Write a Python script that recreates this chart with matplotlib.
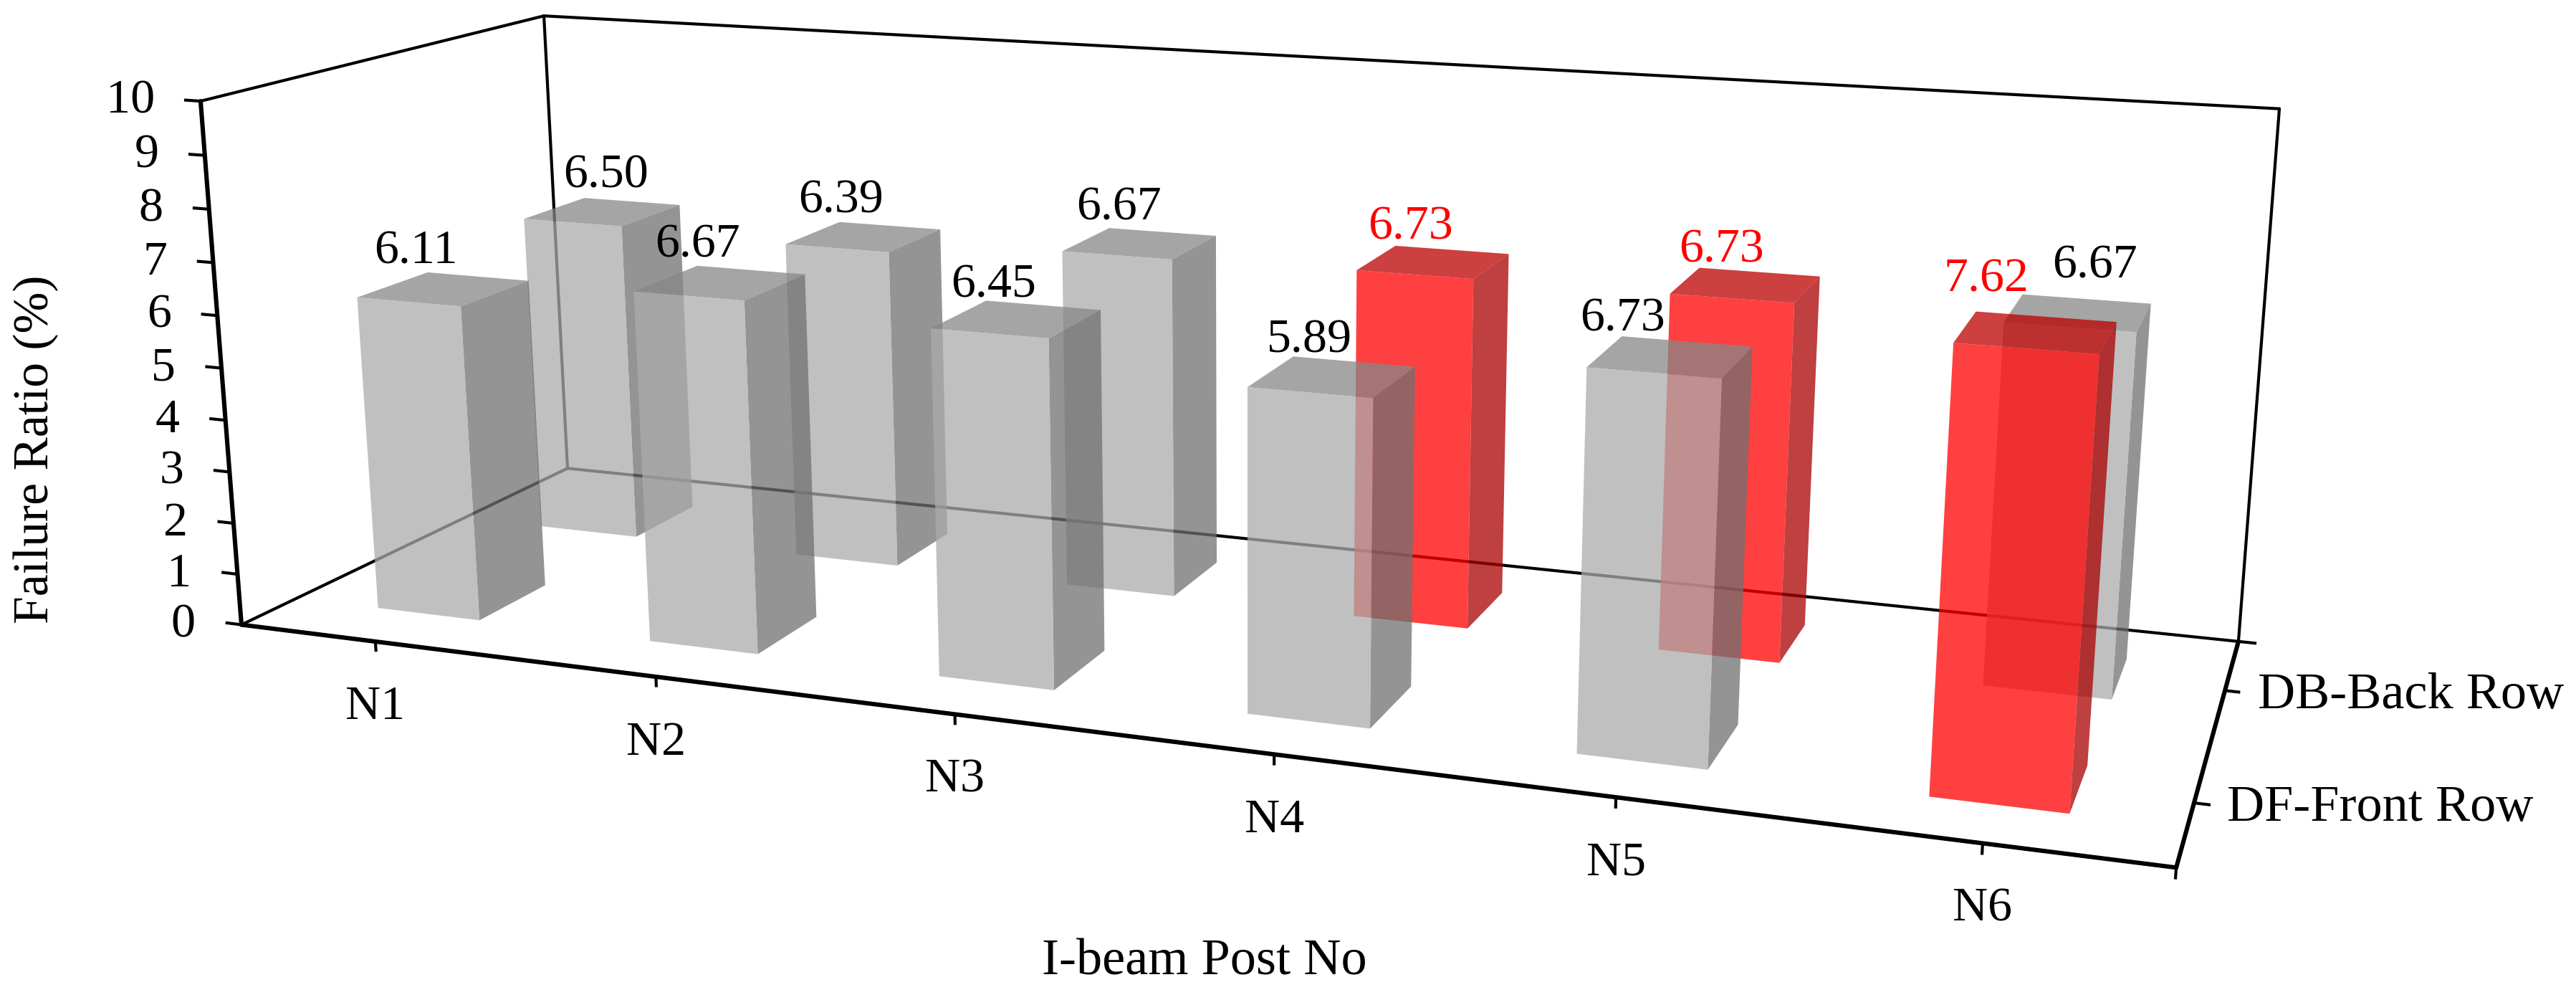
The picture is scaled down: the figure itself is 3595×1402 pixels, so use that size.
import numpy as np
import matplotlib
matplotlib.use("Agg")
import matplotlib.pyplot as plt
from mpl_toolkits.mplot3d import proj3d

posts = ["N1", "N2", "N3", "N4", "N5", "N6"]
rows = ["DF-Front Row", "DB-Back Row"]
front_values = [6.11, 6.67, 6.45, 5.89, 6.73, 7.62]
back_values = [6.50, 6.39, 6.67, 6.73, 6.73, 6.67]
front_red = [False, False, False, False, False, True]
back_red = [False, False, False, True, True, False]
z_ticks = list(range(0, 11))

# label nudges from the bar top, in pixels
front_dx = [-39, -32, -32, -32, -67, -69]
front_dy = [52, 53, 47, 51, 53, 74]
back_dx = [5, -32, -29, -32, -34, 23]
back_dy = [51, 50, 50, 49, 49, 65]

W, H = 3595, 1402
X_MAX, Y_MAX, Z_MAX = 6, 2, 10
BAR_W, BAR_D = 0.38, 0.40

# where the box corners land on the picture, (x, y, z) -> pixel
corners = [
    ((0, 0, 0), (337, 871)),
    ((X_MAX, 0, 0), (3037, 1211)),
    ((0, Y_MAX, 0), (792, 654)),
    ((X_MAX, Y_MAX, 0), (3124, 894)),
    ((0, 0, Z_MAX), (280, 141)),
    ((0, Y_MAX, Z_MAX), (759, 22)),
    ((X_MAX, Y_MAX, Z_MAX), (3181, 152)),
]

GREY = {"front": (171, 171, 171), "side": (112, 112, 112), "top": (135, 135, 135)}
RED = {"front": (255, 0, 0), "side": (168, 0, 0), "top": (188, 0, 0)}
ALPHA = 0.75


def fit_camera(points):
    a, b = [], []
    for (x, y, z), (u, v) in points:
        a.append([x, y, z, 1, 0, 0, 0, 0, -u * x, -u * y, -u * z])
        b.append(u)
        a.append([0, 0, 0, 0, x, y, z, 1, -v * x, -v * y, -v * z])
        b.append(v)
    p = np.linalg.lstsq(np.array(a, float), np.array(b, float), rcond=None)[0]
    return np.array([p[:4], p[4:8], [0, 1, 0, 0], [p[8], p[9], p[10], 1.0]])


def face_colors(c):
    col = lambda name: tuple(v / 255 for v in c[name]) + (ALPHA,)
    hidden = (1, 1, 1, 0)
    # bar3d order: bottom, top, front, back, left, right
    return [hidden, col("top"), col("front"), hidden, hidden, col("side")]


M = fit_camera(corners)


def label(ax, text, x, y, z, dx=0, dy=0, **kw):
    px, py, _ = proj3d.proj_transform(x, y, z, M)
    ax.annotate(text, xy=(px, py), xycoords="data", xytext=(dx, dy),
                textcoords="offset pixels", ha=kw.pop("ha", "center"),
                va="center", annotation_clip=False, zorder=20, **kw)


def draw_row(ax, y_mid, values, reds, zbase, dxs, dys):
    for i, val in enumerate(values):
        c = RED if reds[i] else GREY
        x0 = i + 0.5 - BAR_W / 2
        ax.bar3d(x0, y_mid - BAR_D / 2, 0, BAR_W, BAR_D, val,
                 color=face_colors(c), shade=False, linewidth=0, zorder=zbase + i)
        label(ax, "%.2f" % val, i + 0.5, y_mid, val, dxs[i], dys[i],
              color="#ff0000" if reds[i] else "black", fontsize=49)


def draw_frame(ax):
    back = dict(color="black", lw=3.0, zorder=1, solid_capstyle="round")
    edge = dict(color="black", lw=4.4, zorder=15, solid_capstyle="round")
    ax.plot([0, 0], [0, Y_MAX], [0, 0], **back)
    ax.plot([0, X_MAX], [Y_MAX, Y_MAX], [0, 0], **back)
    ax.plot([0, 0], [Y_MAX, Y_MAX], [0, Z_MAX], **back)
    ax.plot([0, 0], [0, Y_MAX], [Z_MAX, Z_MAX], **back)
    ax.plot([0, X_MAX], [Y_MAX, Y_MAX], [Z_MAX, Z_MAX], **back)
    ax.plot([X_MAX, X_MAX], [Y_MAX, Y_MAX], [0, Z_MAX], **back)
    ax.plot([0, 0], [0, 0], [0, Z_MAX], **edge)
    ax.plot([0, X_MAX], [0, 0], [0, 0], **edge)
    ax.plot([X_MAX, X_MAX], [0, Y_MAX], [0, 0], **edge)

    tick = dict(color="black", lw=3.0, zorder=15)
    for z in z_ticks:
        ax.plot([0, -0.055], [0, 0], [z, z], **tick)
        label(ax, str(z), 0, 0, z, -64, 0, ha="right", fontsize=49)
    for i, name in enumerate(posts):
        ax.plot([i + 0.5, i + 0.5], [0, 0], [0, -0.17], **tick)
        label(ax, name, i + 0.5, 0, 0, 0, -92, fontsize=49)
    ax.plot([X_MAX, X_MAX], [0, 0], [0, -0.17], **tick)
    ax.plot([X_MAX, X_MAX + 0.05], [Y_MAX, Y_MAX], [0, 0], **tick)
    for j, name in enumerate(rows):
        ax.plot([X_MAX, X_MAX + 0.04], [j + 0.5, j + 0.5], [0, 0], **tick)
        label(ax, name, X_MAX, j + 0.5, 0, 46, -7, ha="left", fontsize=52)


def main():
    plt.rcParams["font.family"] = ["Liberation Serif", "DejaVu Serif"]
    fig = plt.figure(figsize=(W / 100, H / 100), dpi=100)
    ax = fig.add_axes([0, 0, 1, 1], projection="3d", computed_zorder=False)
    ax.set_proj_type("ortho")
    ax.get_proj = lambda: M
    ax.apply_aspect = lambda position=None: None
    ax.set_axis_off()
    ax.viewLim.intervalx = (0, W)
    ax.viewLim.intervaly = (H, 0)

    draw_frame(ax)
    draw_row(ax, 1.5, back_values, back_red, 2, back_dx, back_dy)
    draw_row(ax, 0.5, front_values, front_red, 8, front_dx, front_dy)

    fig.text(50 / W, 1 - 627 / H, "Failure Ratio (%)", rotation=90,
             ha="center", va="center", fontsize=50)
    fig.text(1681 / W, 1 - 1342 / H, "I-beam Post No", ha="center", va="center",
             fontsize=52)
    fig.savefig("out.png", dpi=100)


if __name__ == "__main__":
    main()
